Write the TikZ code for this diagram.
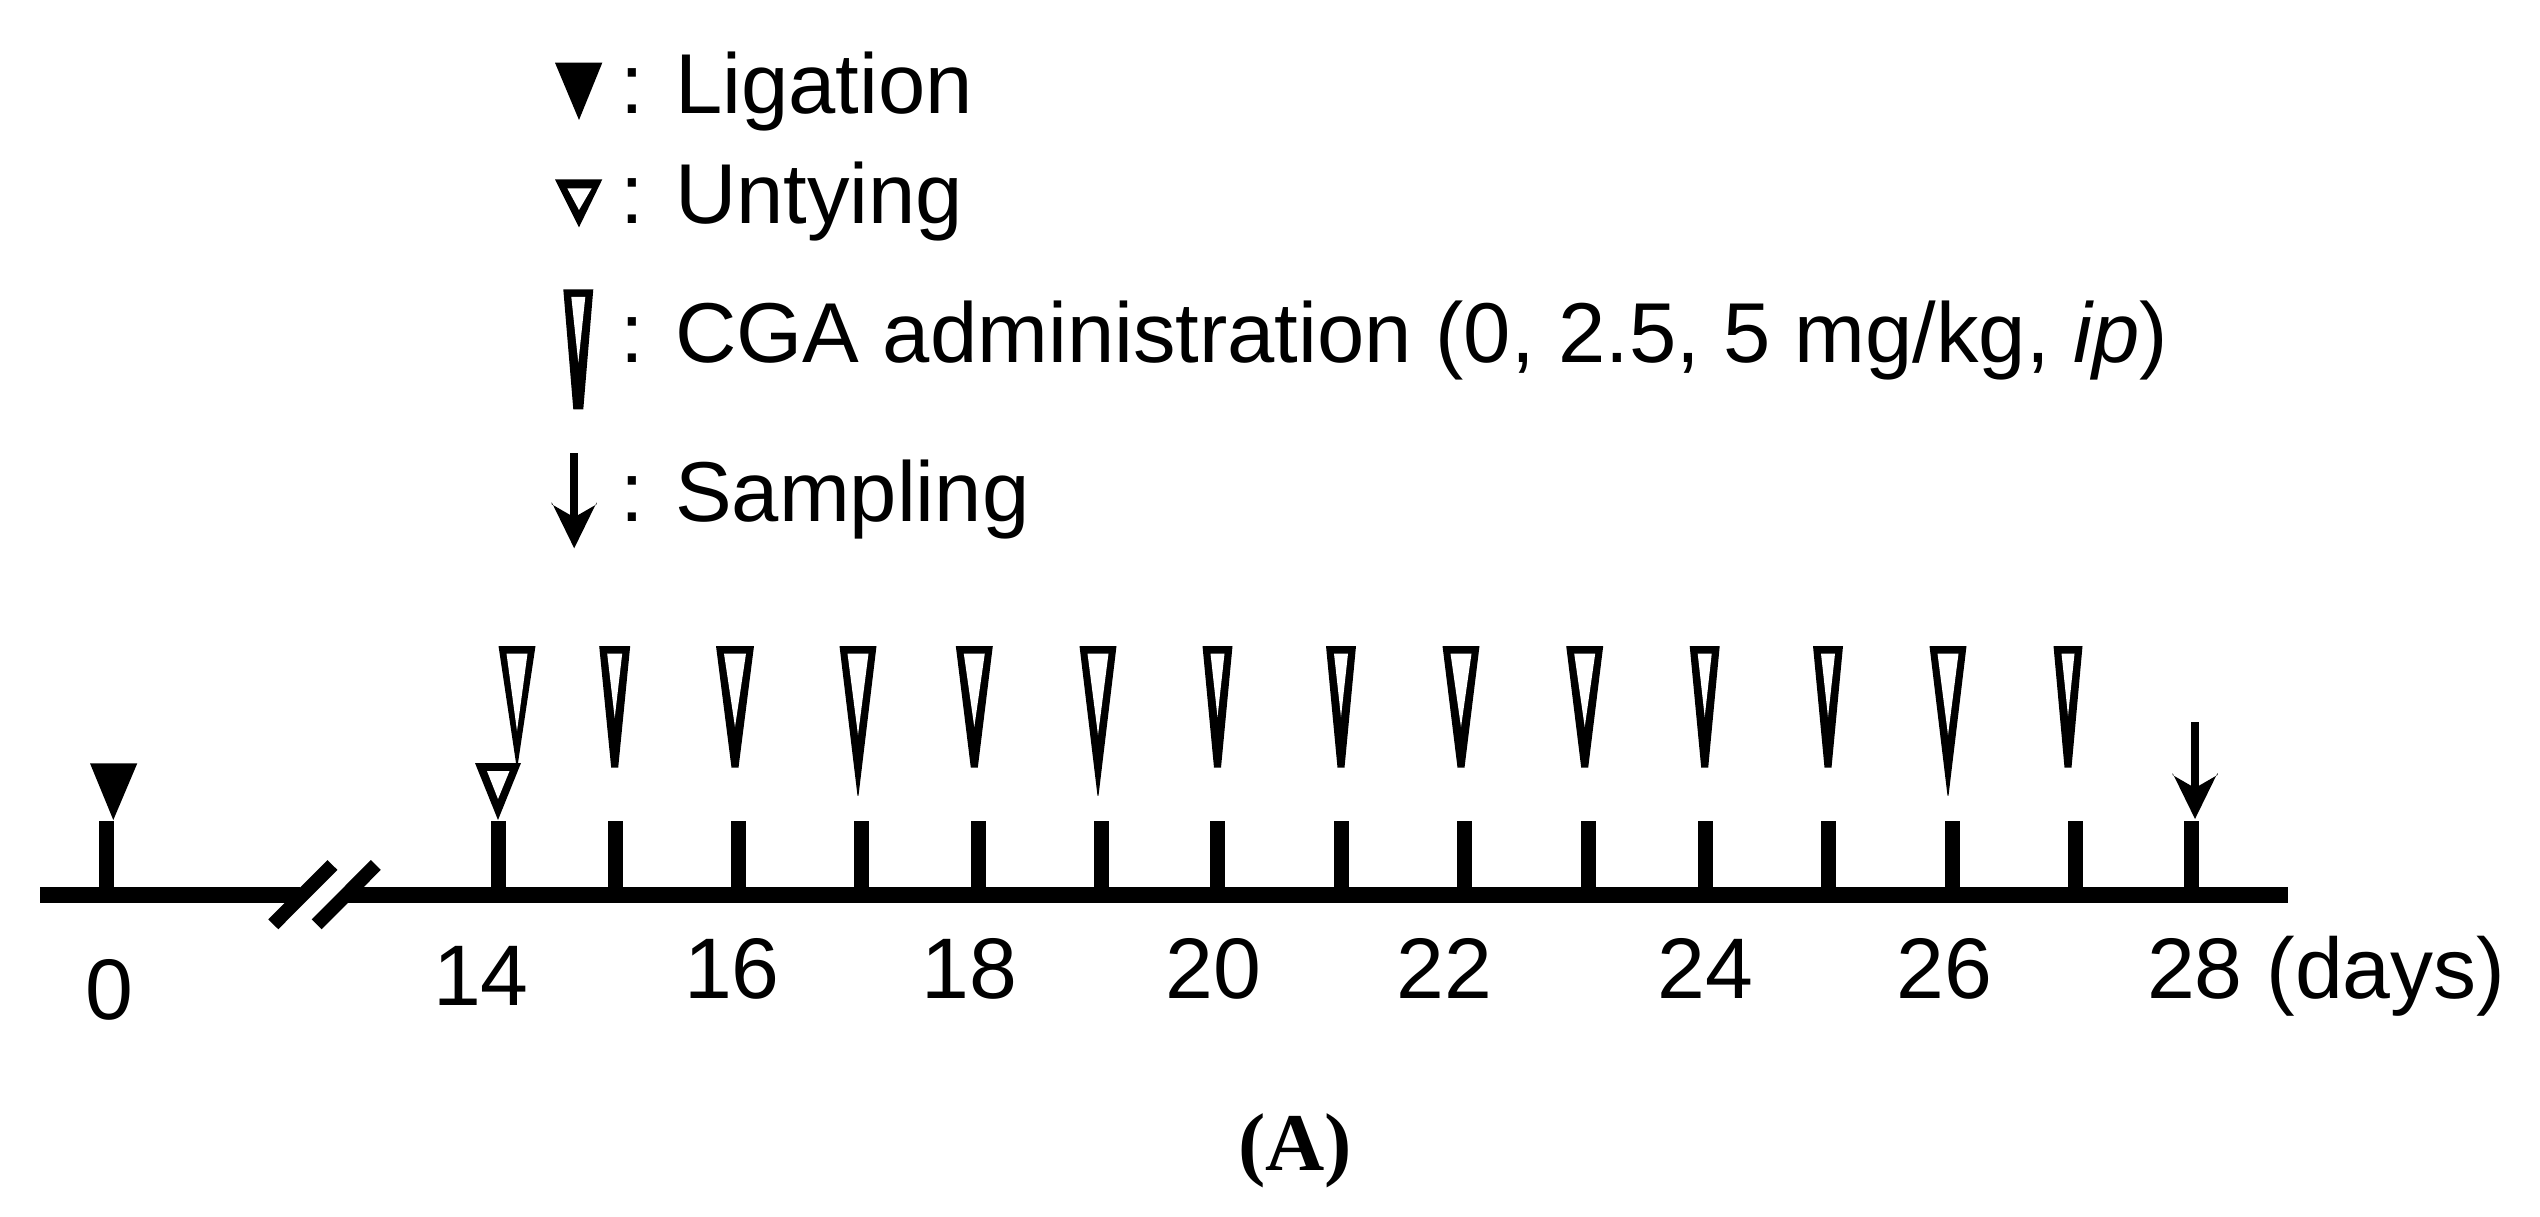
\documentclass[tikz,border=0pt]{standalone}
\usepackage{fontspec}
\setmainfont{Liberation Sans}
\newfontfamily\capserif{Liberation Serif}
\newcommand\cgamark[6]{% cx, top y, width, bottom y, bottom half width, inner tip y
  \fill (#1-#3/2,#2) -- (#1+#3/2,#2) -- (#1+#5,#4) -- (#1-#5,#4) -- cycle;
  \fill[white] (#1-#3/2+8,#2+7.5) -- (#1+#3/2-8,#2+7.5) -- (#1,#6) -- cycle;}
\newcommand\downarrowmark[3]{% cx, top y, tip y
  \fill (#1-4,#2) rectangle (#1+4,#3-30);
  \fill (#1,#3) -- (#1-22.5,#3-46) -- (#1-22.5,#3-44) -- (#1,#3-31) -- (#1+22.5,#3-44) -- (#1+22.5,#3-46) -- cycle;}
\begin{document}
\begin{tikzpicture}[x=1pt,y=-1pt,
  lbl/.style={inner sep=0pt, outer sep=0pt, font=\fontsize{86}{100}\selectfont},
  leg/.style={inner sep=0pt, outer sep=0pt, anchor=base west, font=\fontsize{85}{100}\selectfont},
  axisline/.style={line width=16pt, line cap=butt},
  tickmark/.style={line width=15pt, line cap=butt},
  breakmark/.style={line width=14pt, line cap=butt}]
\useasboundingbox (0,0) rectangle (2540,1217);

% ---------- legend ----------
\fill (555,62.7) -- (602.3,62.7) -- (579,120) -- cycle;
\fill (555,179.3) -- (602.3,179.3) -- (579,227.3) -- cycle;
\fill[white] (567.3,188.3) -- (591.7,188.3) -- (579,210) -- cycle;
\cgamark{578.3}{289.3}{30}{409.3}{5}{362.7}
\downarrowmark{574.2}{453.3}{548.3}

\node[leg] (tlig) at (620,114) {: Ligation};
\node[leg] (tunt) at (620,223.3) {: Untying};
\node[leg] (tcga) at (620,362.3) {: CGA administration (0, 2.5, 5 mg/kg, \textit{ip})};
\node[leg] (tsam) at (620,521.7) {: Sampling};

% ---------- axis ----------
\draw[axisline] (40,895) -- (300,895);
\draw[axisline] (345,895) -- (2288,895);
\draw[breakmark] (273.3,924.3) -- (332.5,865);
\draw[breakmark] (316.7,924.3) -- (375.8,865);

\foreach \x in {106.7,498,615,738.5,861.5,978.5,1101.5,1217.5,1341.5,1464.5,1588.5,1705,1828.5,1952,2075,2191.5}
  \draw[tickmark] (\x,821) -- (\x,888);

% ligation (day 0)
\fill (90,763.3) -- (137.3,763.3) -- (113.3,820) -- cycle;
% untying (day 14)
\fill (475,763) -- (521,763) -- (498,820) -- cycle;
\fill[white] (487,771) -- (509.5,771) -- (498,799) -- cycle;

% CGA administrations
\cgamark{517}{646}{37}{763}{1}{731}
\cgamark{614.7}{646}{31}{767.7}{3.5}{718}
\cgamark{735}{646}{38}{767.7}{3.5}{727}
\cgamark{858}{646}{37}{795.7}{0.5}{735}
\cgamark{974.3}{646}{37}{767.7}{3.5}{727}
\cgamark{1098}{646}{37}{795.7}{0.5}{735}
\cgamark{1217.5}{646}{30}{767.7}{3.5}{717}
\cgamark{1341}{646}{30}{767.7}{3.5}{717}
\cgamark{1461}{646}{37}{767.7}{3.5}{727}
\cgamark{1584.7}{646}{37}{767.7}{3.5}{727}
\cgamark{1704.7}{646}{30}{767.7}{3.5}{717}
\cgamark{1828}{646}{30}{767.7}{3.5}{717}
\cgamark{1948}{646}{37}{795.7}{0.5}{735}
\cgamark{2068}{646}{29}{767.7}{3.5}{716}

% sampling (day 28)
\downarrowmark{2195}{721.7}{819}

% ---------- tick labels ----------
\node[lbl, anchor=base] (d0) at (109,1019) {0};
\node[lbl, anchor=base] (d14) at (481,1005) {14};
\node[lbl, anchor=base] (d16) at (732,998) {16};
\node[lbl, anchor=base] (d18) at (969.5,998) {18};
\node[lbl, anchor=base] (d20) at (1213,998) {20};
\node[lbl, anchor=base] (d22) at (1444,998) {22};
\node[lbl, anchor=base] (d24) at (1705.5,998) {24};
\node[lbl, anchor=base] (d26) at (1944,998) {26};
\node[lbl, anchor=base west] (d28) at (2147,998) {28 (days)};

% ---------- caption ----------
\node[inner sep=0pt, outer sep=0pt, anchor=base, font=\capserif\bfseries\fontsize{82}{96}\selectfont] (cap) at (1295,1170) {(A)};
\end{tikzpicture}
\end{document}
